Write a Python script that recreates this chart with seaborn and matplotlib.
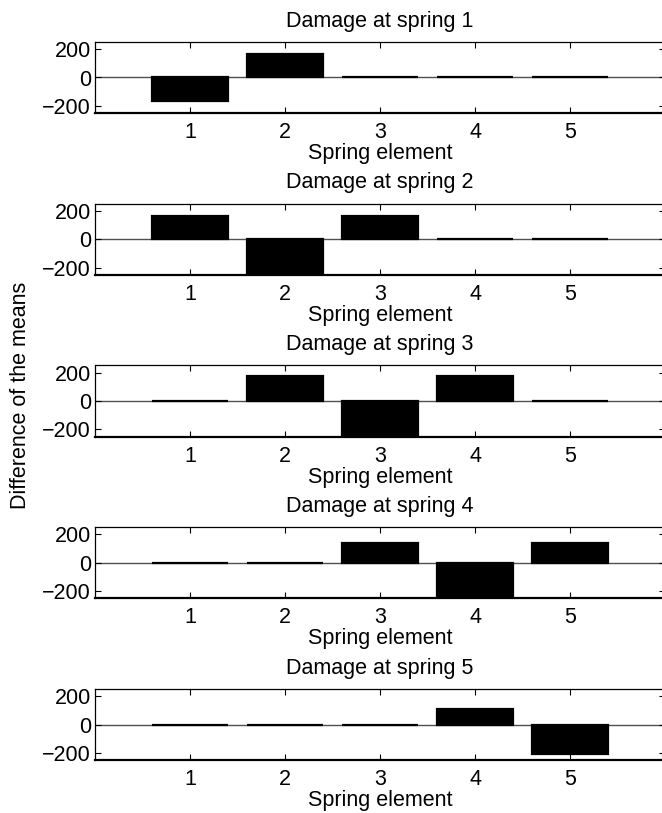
import matplotlib
matplotlib.use("Agg")
import matplotlib.pyplot as plt
import seaborn as sns
import pandas as pd

# ---- data ----
elements = [1, 2, 3, 4, 5]
titles = ["Damage at spring 1", "Damage at spring 2", "Damage at spring 3",
          "Damage at spring 4", "Damage at spring 5"]
diff_spring1 = [-165, 165, 0, 0, 0]
diff_spring2 = [166, -332, 166, 0, 0]
diff_spring3 = [0, 178, -356, 178, 0]
diff_spring4 = [0, 0, 140, -280, 140]
diff_spring5 = [0, 0, 0, 110, -207]
all_diffs = [diff_spring1, diff_spring2, diff_spring3, diff_spring4, diff_spring5]
yticks = [-200, 0, 200]

sns.set_style("ticks")
plt.rcParams["font.family"] = ["Liberation Sans", "DejaVu Sans"]
plt.rcParams["text.color"] = "black"
plt.rcParams["axes.labelcolor"] = "black"
plt.rcParams["xtick.color"] = "black"
plt.rcParams["ytick.color"] = "black"
FS = 15.5

W, H = 662, 813
fig = plt.figure(figsize=(W / 100, H / 100), dpi=100)

left_px, right_px = 95, 665
top0, pitch, height_px = 42, 161.75, 71

for i, (vals, title) in enumerate(zip(all_diffs, titles)):
    top = top0 + pitch * i
    ax = fig.add_axes([left_px / W, 1 - (top + height_px) / H,
                       (right_px - left_px) / W, height_px / H])
    df = pd.DataFrame({"element": elements, "diff": vals})
    ax.axhline(0, color="#505050", lw=1.0, zorder=0.5)
    sns.barplot(data=df, x="element", y="diff", native_scale=True,
                color="black", edgecolor="black", linewidth=1.6,
                saturation=1, errorbar=None, width=0.8, ax=ax, zorder=2)
    ax.set_xlim(0, 6)
    ax.set_ylim(-250, 250)
    ax.set_xticks(elements)
    ax.set_xticklabels([str(e) for e in elements])
    ax.set_yticks(yticks)
    ax.set_ylabel("")
    ax.set_xlabel("Spring element", fontsize=FS, labelpad=0, color="black")
    ax.set_title(title, fontsize=FS, pad=11, color="black")
    ax.tick_params(direction="in", length=4, width=0.8, top=True, right=True,
                   labelsize=FS, colors="black")
    ax.tick_params(axis="x", pad=6.5)
    ax.tick_params(axis="y", pad=3)
    for s in ["top", "left", "right"]:
        ax.spines[s].set_visible(True)
        ax.spines[s].set_linewidth(0.9)
        ax.spines[s].set_color("black")
    ax.spines["bottom"].set_linewidth(1.6)
    ax.spines["bottom"].set_color("black")

fig.text(21 / W, 1 - 395 / H, "Difference of the means", rotation=90,
         ha="center", va="center", fontsize=FS, color="black")

fig.savefig("out.png", dpi=100)
